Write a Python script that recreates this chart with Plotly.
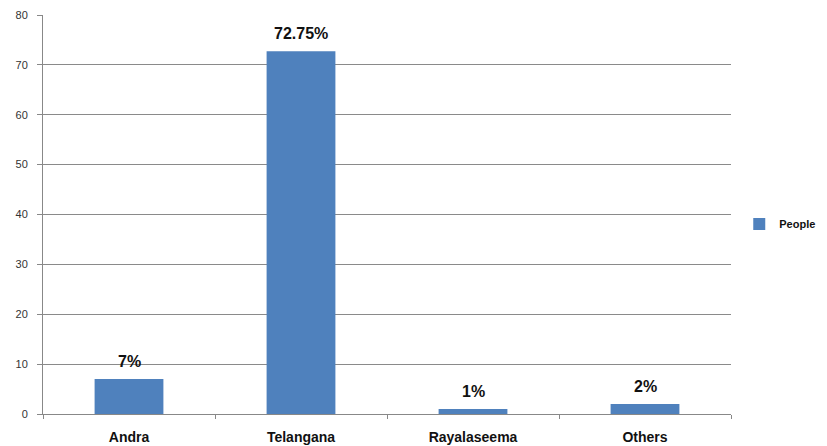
import plotly.graph_objects as go

categories = ["Andra", "Telangana", "Rayalaseema", "Others"]
values = [7, 72.75, 1, 2]
labels = ["7%", "72.75%", "1%", "2%"]
series_name = "People"
y_ticks = [0, 10, 20, 30, 40, 50, 60, 70, 80]

fig = go.Figure()
fig.add_trace(go.Bar(
    x=categories, y=values, name="<b>%s</b>" % series_name,
    marker=dict(color="#4F81BD", line=dict(width=0)),
    showlegend=True,
))

for c, v, t in zip(categories, values, labels):
    fig.add_annotation(x=c, y=v, text="<b>%s</b>" % t, showarrow=False,
                       yanchor="bottom", yshift=7,
                       font=dict(family="Liberation Sans, Arial", size=16, color="#111"))

# page body has an 8px default margin, so the figure is sized to fit the window
fig.update_layout(
    width=819, height=438,
    margin=dict(l=35, r=96, t=7, b=32, autoexpand=False),
    paper_bgcolor="white", plot_bgcolor="white",
    bargap=0.6,
    font=dict(family="Liberation Sans, Arial", color="#333"),
    legend=dict(x=1.012, y=0.476, xanchor="left", yanchor="middle",
                font=dict(size=11, color="#111", family="Liberation Sans, Arial"),
                itemwidth=30, bgcolor="rgba(0,0,0,0)"),
    xaxis=dict(
        showgrid=False, showline=True, linecolor="#888", linewidth=1,
        ticks="outside", tickson="boundaries", ticklen=4, tickcolor="#888",
        tickfont=dict(size=14, color="#111", family="Liberation Sans, Arial"),
        tickprefix="<b>", ticksuffix="</b>", ticklabelstandoff=10,
    ),
    yaxis=dict(
        range=[0, 80], tickvals=y_ticks,
        showgrid=True, gridcolor="#8a8a8a", gridwidth=1,
        showline=True, linecolor="#888", linewidth=1,
        ticks="outside", ticklen=5, tickcolor="#888",
        tickfont=dict(size=11, color="#333"), ticklabelstandoff=7,
        zeroline=False,
    ),
)

fig.write_html("out.html")
